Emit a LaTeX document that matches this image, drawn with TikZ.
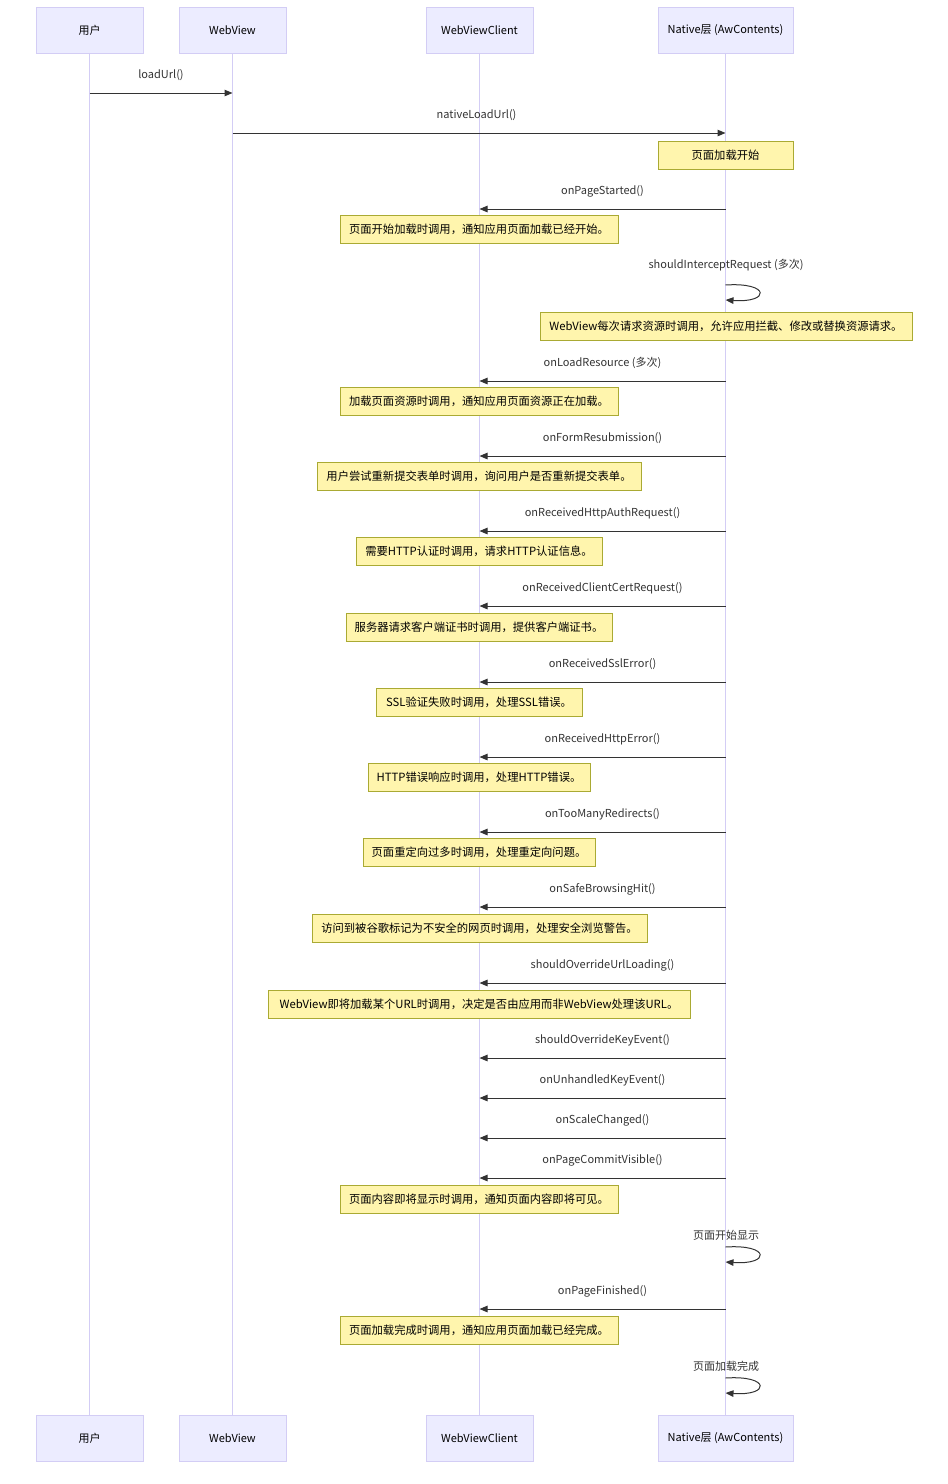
\documentclass[tikz,border=0pt]{standalone}
\usepackage{fontspec}
\setmainfont{Noto Sans CJK SC}
\usepackage{tikz}
\usetikzlibrary{arrows.meta}
\definecolor{actorfill}{HTML}{ECECFF}
\definecolor{actorline}{HTML}{D3CDF5}
\definecolor{notefill}{HTML}{FFF5AD}
\definecolor{noteline}{HTML}{AAAA33}
\definecolor{msgcolor}{HTML}{333333}
\tikzstyle{actor} = [draw=actorline, fill=actorfill, rectangle,
    minimum height=46, font=\fontsize{11}{13}\selectfont]
\tikzstyle{note} = [draw=noteline, fill=notefill, rectangle,
    minimum height=28, font=\fontsize{11.3}{13}\selectfont]
\tikzstyle{life} = [draw=actorline, line width=1pt]
\tikzstyle{msg} = [draw=msgcolor, line width=1pt, -{Triangle[length=8pt,width=6.5pt]}]
\tikzstyle{lbl} = [text=msgcolor, font=\fontsize{11}{13}\selectfont]

\begin{document}
\begin{tikzpicture}[x=1pt, y=-1pt]
        \useasboundingbox (0,0) rectangle (948,1484);
        % We start by placing the actors and their lifelines
        \foreach \name/\x/\w/\txt in {user/89.5/107/用户, view/232.5/107/WebView,
            client/479.5/107/WebViewClient, native/725.5/135/Native层 (AwContents)} {
            \node [actor, minimum width=\w] (\name-t) at (\x,30.5) {\txt};
            \node [actor, minimum width=\w] (\name-b) at (\x,1438) {\txt};
            \draw [life] (\name-t) -- (\name-b);
        }

        % Calls from the user down to the native layer
        \draw [msg] (user-t |- 0,93) -- node [lbl, yshift=18pt] {loadUrl()} (view-t |- 0,93);
        \draw [msg] (view-t |- 0,133) -- node [lbl, yshift=18pt, pos=.495] {nativeLoadUrl()} (native-t |- 0,133);

        % Callbacks from the native layer to the client
        \foreach \y/\txt in {209/onPageStarted(), 381/onLoadResource (多次),
            456/onFormResubmission(), 531/onReceivedHttpAuthRequest(),
            606/onReceivedClientCertRequest(), 682/onReceivedSslError(),
            757/onReceivedHttpError(), 832/onTooManyRedirects(),
            907/onSafeBrowsingHit(), 983/shouldOverrideUrlLoading(),
            1058/shouldOverrideKeyEvent(), 1098/onUnhandledKeyEvent(),
            1138/onScaleChanged(), 1178/onPageCommitVisible(),
            1309/onPageFinished()}
            \draw [msg] (native-t |- 0,\y) -- node [lbl, yshift=18pt] {\txt} (client-t |- 0,\y);

        % Self calls on the native layer
        \foreach \y/\ly/\txt [count=\i] in {285/265/shouldInterceptRequest (多次),
            1247/1235/页面开始显示, 1378/1366/页面加载完成} {
            \node [lbl] (self\i) at (726,\ly) {\txt};
            \draw [msg] (native-t |- 0,\y) .. controls +(45,-3) and +(45,3) .. (native-t |- 0,\y+15);
        }

        % Notes go on top of the lifelines
        \foreach \x/\y/\w/\txt [count=\i] in {725.5/155/135/页面加载开始,
            479/229.5/278/页面开始加载时调用，通知应用页面加载已经开始。,
            726/326.5/372/WebView每次请求资源时调用，允许应用拦截、修改或替换资源请求。,
            479/401.5/278/加载页面资源时调用，通知应用页面资源正在加载。,
            479/476.5/324/用户尝试重新提交表单时调用，询问用户是否重新提交表单。,
            479/551.5/246/需要HTTP认证时调用，请求HTTP认证信息。,
            479/627/266/服务器请求客户端证书时调用，提供客户端证书。,
            479/702.5/206/SSL验证失败时调用，处理SSL错误。,
            479/777.5/222/HTTP错误响应时调用，处理HTTP错误。,
            479/852.5/232/页面重定向过多时调用，处理重定向问题。,
            479.5/928/335/访问到被谷歌标记为不安全的网页时调用，处理安全浏览警告。,
            479/1004/422/WebView即将加载某个URL时调用，决定是否由应用而非WebView处理该URL。,
            479/1199/278/页面内容即将显示时调用，通知页面内容即将可见。,
            479/1330/278/页面加载完成时调用，通知应用页面加载已经完成。}
            \node [note, minimum width=\w] (note\i) at (\x,\y) {\txt};
\end{tikzpicture}
\end{document}
